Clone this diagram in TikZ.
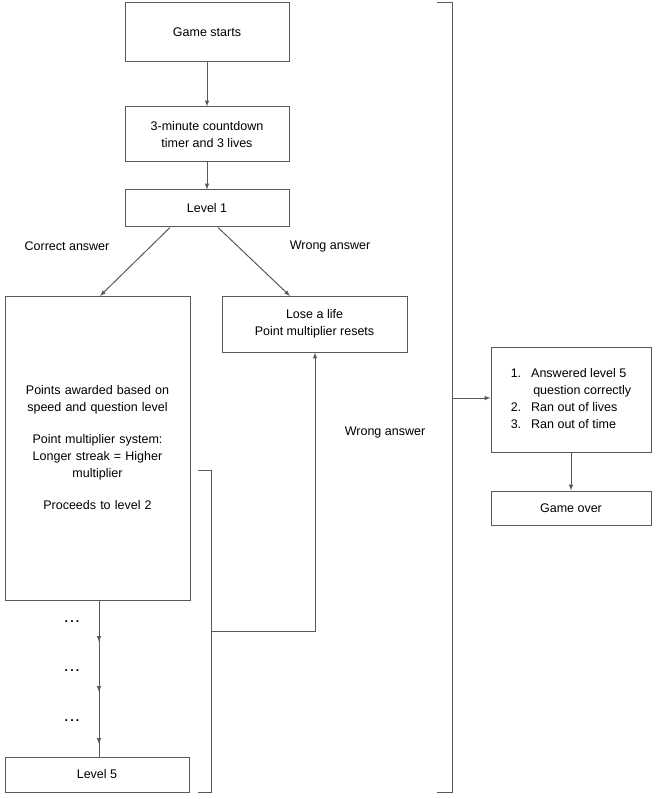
\documentclass[tikz,border=0pt]{standalone}
\usepackage{fontspec}
\setmainfont{Liberation Sans}
\usetikzlibrary{positioning}

\tikzset{
    box/.style={draw=gray!70!black, line width=1pt, align=center, inner sep=2pt,
        font=\fontsize{12.5}{17}\selectfont},
    line/.style={draw=gray!70!black, line width=1pt},
    arr/.style={line, -latex},
    lbl/.style={font=\fontsize{12.5}{15}\selectfont}
}

\begin{document}
\begin{tikzpicture}[x=1pt, y=-1pt]
    \useasboundingbox (0,0) rectangle (656,799);

    \node[box, minimum width=164, minimum height=59] (start) at (207,32.5) {Game starts};
    \node[box, minimum width=164, minimum height=55] (timer) at (207,134.5) {3-minute countdown\\timer and 3 lives};
    \node[box, minimum width=164, minimum height=37] (level1) at (207,208.5) {Level 1};
    \node[box, minimum width=185, minimum height=304, text width=175] (correct) at (97.5,448)
        {Points awarded based on\\speed and question level\\[15pt]Point multiplier  system:\\Longer streak = Higher\\multiplier\\[15pt]Proceeds to level 2};
    \node[box, minimum width=185, minimum height=56] (lose) at (314.5,324) {Lose a life\\Point multiplier resets};
    \node[box, minimum width=184, minimum height=35] (level5) at (97,774.5) {Level 5};
    \node[box, minimum width=160, minimum height=105] (end) at (571,399.5)
        {\begin{tabular}{@{}r@{\hspace{10pt}}l@{}}1.&Answered level 5\\&\,question correctly\\2.&Ran out of lives\\3.&Ran out of time\end{tabular}};
    \node[box, minimum width=160, minimum height=34] (over) at (571,508) {Game over};

    % main flow
    \draw[arr] (start) -- (timer);
    \draw[arr] (timer) -- (level1);
    \draw[arr] (level1.south) ++(-37,0) -- (100,296);
    \draw[arr] (level1.south) ++(11,0) -- (290,296);
    \node[lbl] (lblc) at (67,246) {Correct answer};
    \node[lbl] (lblw) at (330,246) {Wrong answer};

    % levels 2 to 4
    \draw[line] (correct.south -| 99,0) -- (level5.north -| 99,0);
    \foreach \y/\d in {642/622, 692/671, 744/721} {
        \node[lbl] at (72,\d) {\textbf{.\,.\,.}};
        \draw[arr] (99,\y-10) -- (99,\y);
    }

    % wrong answer at any level
    \draw[line] (198,470) -- (211,470) -- (211,792) -- (198,792);
    \coordinate (wb) at (211,631);
    \draw[arr] (wb) -- (315,631) -- (lose.south -| 315,0);
    \node[lbl] (lblw2) at (385,432) {Wrong answer};

    % game end
    \draw[line] (437,3) -- (452,3) -- (452,792) -- (437,792);
    \coordinate (gb) at (452,398);
    \draw[arr] (gb) -- (gb -| end.west);
    \draw[arr] (end) -- (over);
\end{tikzpicture}
\end{document}
